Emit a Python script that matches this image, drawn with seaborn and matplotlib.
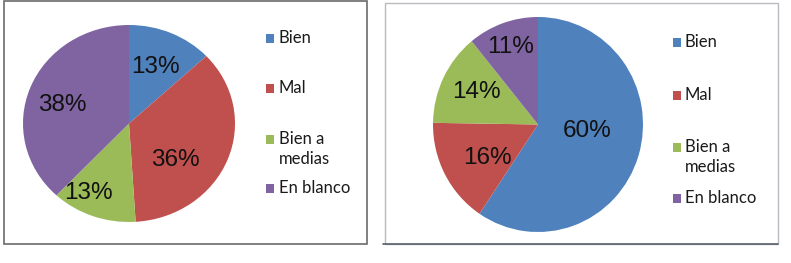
import matplotlib
matplotlib.use("Agg")
import matplotlib.pyplot as plt
from matplotlib.patches import Rectangle
import seaborn as sns
import numpy as np

sns.set_theme(style="white")
plt.rcParams['font.family'] = ['Liberation Sans', 'DejaVu Sans']

# ---- data ----
categories = ["Bien", "Mal", "Bien a\nmedias", "En blanco"]
left_values = [13, 36, 13, 38]
right_values = [60, 16, 14, 11]
colors = ["#4F81BD", "#C0504D", "#9BBB59", "#8064A2"]

W, H = 791, 263
fig = plt.figure(figsize=(W / 100, H / 100), dpi=100)
fig.patch.set_facecolor("white")


def fig_box(x0, y0, x1, y1):
    """pixel box (top-left origin) -> figure fraction rect"""
    return [x0 / W, 1 - y1 / H, (x1 - x0) / W, (y1 - y0) / H]


# panel borders
fig.patches.append(Rectangle((3.5 / W, 1 - 244 / H), (367 - 3.5) / W, (244 - 1.5) / H,
                             transform=fig.transFigure, fill=False,
                             edgecolor="#6b6b6b", linewidth=1.2))
fig.patches.append(Rectangle((385 / W, 1 - 244 / H), (777.5 - 385) / W, (244 - 3) / H,
                             transform=fig.transFigure, fill=False,
                             edgecolor="#b8bcc0", linewidth=1.0))
fig.lines.append(plt.Line2D([383 / W, 778 / W], [1 - 244 / H, 1 - 244 / H],
                            transform=fig.transFigure, color="#56606a", linewidth=1.2))


def draw_pie(box, values, label_dist, label_shift):
    ax = fig.add_axes(box)
    wedges, _ = ax.pie(values, colors=colors, startangle=90, counterclock=False,
                       wedgeprops=dict(linewidth=0))
    ax.set_aspect("auto")
    ax.set_xlim(-1, 1)
    ax.set_ylim(-1, 1)
    ax.axis("off")
    for w, v, d, s in zip(wedges, values, label_dist, label_shift):
        ang = np.deg2rad((w.theta1 + w.theta2) / 2 + s)
        ax.text(d * np.cos(ang), d * np.sin(ang), f"{v}%",
                ha="center", va="center", fontsize=17.5, color="#111111",
                family=["Liberation Sans", "DejaVu Sans"])
    return ax


draw_pie(fig_box(23, 25, 235, 222), left_values,
         [0.63, 0.57, 0.80, 0.66], [0, -19, -9, 5])
draw_pie(fig_box(433, 17, 643, 232), right_values,
         [0.47, 0.57, 0.66, 0.77], [9, 5, -1, 0])

# legend rows (pixel y of the first text line center)
left_rows = [38, 88, 139, 188]
right_rows = [42, 95, 147, 198]


def draw_legend(sq_x, txt_x, ys):
    for c, lab, y in zip(colors, categories, ys):
        fig.patches.append(Rectangle((sq_x / W, 1 - (y + 4.5) / H), 8.5 / W, 8.5 / H,
                                     transform=fig.transFigure, facecolor=c,
                                     edgecolor="none"))
        lines = lab.split("\n")
        for k, ln in enumerate(lines):
            fig.text(txt_x / W, 1 - (y + 20.5 * k) / H, ln, ha="left", va="center",
                     fontsize=12, color="#1a1a1a", family=["Lato", "DejaVu Sans"])


draw_legend(265.5, 279, left_rows)
draw_legend(672.5, 685, right_rows)

fig.savefig("out.png", dpi=100, facecolor="white")
